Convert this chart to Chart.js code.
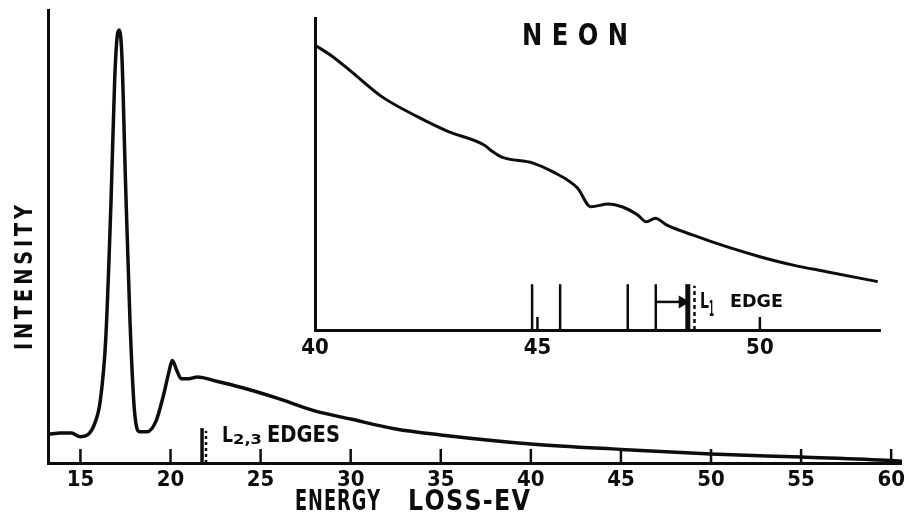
<!DOCTYPE html>
<html>
<head>
<meta charset="utf-8">
<script src="https://cdn.jsdelivr.net/npm/chart.js@4.4.1/dist/chart.umd.min.js"></script>
<style>
  body { margin: 0; background: #fff; }
  #wrap { position: relative; width: 909px; height: 517px; background: #fff; }
  #main { position: absolute; left: 0; top: 0; }
  #inset { position: absolute; left: 290px; top: 0; }
</style>
</head>
<body>
<div id="wrap">
  <canvas id="main" width="909" height="517"></canvas>
  <canvas id="inset" width="619" height="370"></canvas>
</div>
<script>
// main spectrum: energy loss (eV) vs intensity (arbitrary units)
const lossEnergy = [13.25, 13.9, 14.5, 15.0, 15.4, 15.8, 16.1, 16.4, 16.7, 16.9, 17.05, 17.15, 17.3, 17.5, 17.75, 18.0, 18.3, 18.7, 19.2, 19.6, 19.9, 20.1, 20.35, 20.6, 21.0, 21.5, 22.5, 24.0, 26.0, 28.0, 30.0, 32.5, 35.0, 40.0, 45.0, 50.0, 55.0, 60.0, 60.6];
const lossIntensity = [6.4, 6.6, 6.6, 5.8, 6.2, 8.8, 13.7, 27, 58, 84.5, 94.5, 95.6, 90, 62.4, 31.4, 11.5, 6.9, 6.9, 9.3, 14.8, 19.9, 22.6, 20.4, 18.6, 18.6, 19.0, 18.1, 16.6, 14.2, 11.5, 9.7, 7.5, 6.2, 4.2, 3.0, 2.0, 1.3, 0.55, 0.4];
const mainTicks = [15, 20, 25, 30, 35, 40, 45, 50, 55, 60];

// inset: 40 - 52.7 eV, expanded scale
const insetEnergy = [40.0, 40.4, 40.85, 41.5, 42.3, 43.0, 43.8, 44.0, 44.2, 44.9, 45.35, 45.9, 46.2, 46.6, 46.9, 47.25, 47.45, 47.65, 47.9, 48.5, 49.25, 50.0, 50.75, 51.5, 52.65];
const insetIntensity = [91.3, 87.6, 82.4, 74.8, 68.4, 63.6, 59.3, 57.1, 55.4, 53.5, 50.7, 45.5, 39.5, 40.4, 39.5, 36.9, 34.7, 35.8, 33.7, 30.4, 26.7, 23.5, 20.8, 18.7, 15.5];
const insetTicks = [40, 45, 50];

// edge markers
const l23Edge = 21.75;
const l23Height = 7.7;
const l1Lines = [44.88, 45.51, 47.03, 47.66];
const l1Edge = 48.38;
const l1Height = 14.7;

const ink = '#0d0d0d';
const tickFont = { family: '"Liberation Sans Narrow", "DejaVu Sans Condensed", "DejaVu Sans", sans-serif', size: 22, weight: 'bold' };

function fitText(ctx, text, x, y, w, h, gap) {
  gap = gap || 0;
  ctx.save();
  ctx.fillStyle = ink;
  ctx.font = 'bold 100px "DejaVu Sans Condensed", "DejaVu Sans", sans-serif';
  ctx.textBaseline = 'alphabetic';
  const chars = text.split('');
  const widths = chars.map(c => ctx.measureText(c).width);
  const m = ctx.measureText(text);
  const asc = m.actualBoundingBoxAscent, desc = m.actualBoundingBoxDescent;
  const natural = widths.reduce((a, b) => a + b, 0) + gap * 100 * (chars.length - 1);
  ctx.translate(x, y);
  ctx.scale(w / natural, h / (asc + desc));
  let cx = 0;
  chars.forEach((c, i) => { ctx.fillText(c, cx, asc); cx += widths[i] + gap * 100; });
  ctx.restore();
}

// ticks drawn inward (upward) from the x axis
function inwardTicks(len) {
  return {
    id: 'inwardTicks',
    afterDraw(chart) {
      const ctx = chart.ctx, xs = chart.scales.x, bottom = chart.chartArea.bottom;
      ctx.save();
      ctx.strokeStyle = ink;
      ctx.lineWidth = 2.5;
      xs.ticks.forEach(t => {
        if (Math.abs(t.value - xs.min) < 0.3) return;
        const px = xs.getPixelForValue(t.value);
        ctx.beginPath();
        ctx.moveTo(px, bottom);
        ctx.lineTo(px, bottom - len);
        ctx.stroke();
      });
      ctx.restore();
    }
  };
}

function segments(xs, height) {
  const out = [];
  xs.forEach(v => { out.push({ x: v, y: 0 }, { x: v, y: height }, { x: v, y: null }); });
  return out;
}

const mainLabels = {
  id: 'mainLabels',
  afterDraw(chart) {
    const ctx = chart.ctx;
    ctx.save();
    ctx.translate(13, 350);
    ctx.rotate(-Math.PI / 2);
    fitText(ctx, 'INTENSITY', 0, 0, 145, 19, 0.18);
    ctx.restore();
    fitText(ctx, 'ENERGY', 295, 488, 85, 22, 0.05);
    fitText(ctx, 'LOSS-EV', 408, 488, 122, 22, 0.05);
    fitText(ctx, 'L', 222, 426, 11, 16);
    fitText(ctx, '2,3', 233, 434, 29, 12);
    fitText(ctx, 'EDGES', 267, 425, 73, 17);
  }
};

const insetLabels = {
  id: 'insetLabels',
  afterDraw(chart) {
    const ctx = chart.ctx;
    fitText(ctx, 'NEON', 232, 22, 106, 23, 0.35);
    fitText(ctx, 'L', 410, 292, 9, 16);
    fitText(ctx, '1', 419, 301, 5, 15);
    fitText(ctx, 'EDGE', 440, 293, 53, 14);
  }
};

new Chart(document.getElementById('main'), {
  type: 'line',
  data: {
    datasets: [
      {
        data: lossEnergy.map((e, i) => ({ x: e, y: lossIntensity[i] })),
        borderColor: ink, borderWidth: 3.5, pointRadius: 0,
        cubicInterpolationMode: 'monotone'
      },
      {
        data: segments([l23Edge], l23Height),
        borderColor: ink, borderWidth: 3.5, pointRadius: 0, spanGaps: false
      },
      {
        data: segments([l23Edge + 0.22], l23Height - 0.6),
        borderColor: ink, borderWidth: 2.5, borderDash: [3, 3], pointRadius: 0, spanGaps: false
      }
    ]
  },
  options: {
    responsive: false,
    animation: false,
    devicePixelRatio: 1,
    layout: { padding: { top: 10, right: 4, left: 0, bottom: 0 } },
    plugins: { legend: { display: false }, tooltip: { enabled: false } },
    scales: {
      x: {
        type: 'linear', min: 13.2, max: 60.6,
        afterBuildTicks: s => { s.ticks = mainTicks.map(v => ({ value: v })); },
        afterFit: s => { s.height = 54; },
        grid: { display: false, drawTicks: false },
        border: { display: true, color: ink, width: 3 },
        ticks: { font: tickFont, color: ink, padding: 4, maxRotation: 0, autoSkip: false }
      },
      y: {
        min: 0, max: 100,
        afterFit: s => { s.width = 48; },
        grid: { display: false, drawTicks: false },
        border: { display: true, color: ink, width: 3 },
        ticks: { display: false }
      }
    }
  },
  plugins: [inwardTicks(14), mainLabels]
});

new Chart(document.getElementById('inset'), {
  type: 'line',
  data: {
    datasets: [
      {
        data: insetEnergy.map((e, i) => ({ x: e, y: insetIntensity[i] })),
        borderColor: ink, borderWidth: 3, pointRadius: 0,
        cubicInterpolationMode: 'monotone'
      },
      {
        data: segments(l1Lines, l1Height),
        borderColor: ink, borderWidth: 2.5, pointRadius: 0, spanGaps: false
      },
      {
        data: segments([l1Edge], l1Height),
        borderColor: ink, borderWidth: 5, pointRadius: 0, spanGaps: false
      },
      {
        data: segments([l1Edge + 0.15], l1Height - 0.5),
        borderColor: ink, borderWidth: 2.5, borderDash: [4, 3], pointRadius: 0, spanGaps: false
      },
      {
        data: [{ x: l1Lines[3], y: 9.0 }, { x: l1Edge - 0.12, y: 9.0 }],
        borderColor: ink, borderWidth: 2.5,
        pointRadius: [0, 5], pointStyle: 'triangle', rotation: 90,
        pointBackgroundColor: ink, pointBorderColor: ink
      }
    ]
  },
  options: {
    responsive: false,
    animation: false,
    devicePixelRatio: 1,
    layout: { padding: { top: 18, right: 29, left: 0, bottom: 0 } },
    plugins: { legend: { display: false }, tooltip: { enabled: false } },
    scales: {
      x: {
        type: 'linear', min: 40, max: 52.7,
        afterBuildTicks: s => { s.ticks = insetTicks.map(v => ({ value: v })); },
        afterFit: s => { s.height = 40; },
        grid: { display: false, drawTicks: false },
        border: { display: true, color: ink, width: 3 },
        ticks: { font: tickFont, color: ink, padding: 5, maxRotation: 0, autoSkip: false }
      },
      y: {
        min: 0, max: 100,
        afterFit: s => { s.width = 25; },
        grid: { display: false, drawTicks: false },
        border: { display: true, color: ink, width: 3 },
        ticks: { display: false }
      }
    }
  },
  plugins: [inwardTicks(13), insetLabels]
});
</script>
</body>
</html>
